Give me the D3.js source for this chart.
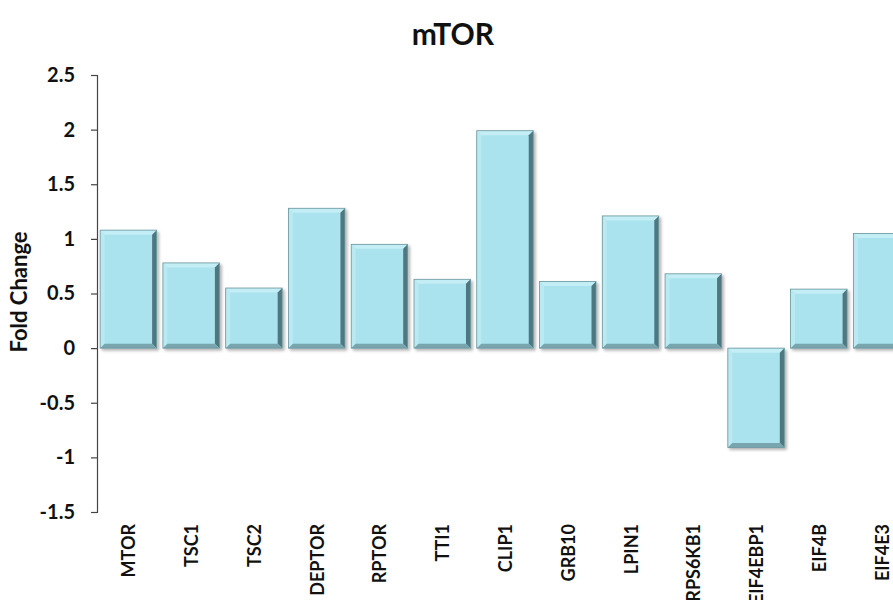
<!DOCTYPE html>
<html><head><meta charset="utf-8">
<script src="https://cdn.jsdelivr.net/npm/d3@7"></script>
<style>body{margin:0;background:#fff;}svg{display:block;font-family:Lato,"Open Sans",sans-serif;}</style>
</head><body>
<svg id="chart" width="893" height="600"></svg>
<script>
const categories = ["MTOR","TSC1","TSC2","DEPTOR","RPTOR","TTI1","CLIP1","GRB10","LPIN1","RPS6KB1","EIF4EBP1","EIF4B","EIF4E3"];
const foldChange = [1.08, 0.78, 0.55, 1.28, 0.95, 0.63, 1.99, 0.61, 1.21, 0.68, -0.91, 0.54, 1.05];
const yTicks = [-1.5, -1, -0.5, 0, 0.5, 1, 1.5, 2, 2.5];
const yTickLabels = ["-1.5","-1","-0.5","0","0.5","1","1.5","2","2.5"];
const title = "mTOR";
const yTitle = "Fold Change";

const svg = d3.select("#chart");
const x = d3.scaleBand().domain(categories).range([97, 913]).paddingInner(0.1).paddingOuter(0.05);
const y = d3.scaleLinear().domain([-1.5, 2.5]).range([512, 75]);

svg.append("text").attr("x", 453).attr("y", 45).attr("text-anchor", "middle")
  .attr("font-weight", "bold").attr("font-size", 30).attr("fill", "#111").text(title);

svg.append("text").attr("transform", "translate(27,292) rotate(-90)").attr("text-anchor", "middle")
  .attr("font-weight", "bold").attr("font-size", 22).attr("fill", "#111").text(yTitle);

const yAxis = d3.axisLeft(y).tickValues(yTicks).tickFormat((d, i) => yTickLabels[i]).tickSize(6).tickPadding(16);
const gy = svg.append("g").attr("transform", "translate(97,0)").call(yAxis);
gy.select(".domain").attr("stroke", "#444").attr("stroke-width", 1.2);
gy.selectAll(".tick line").attr("stroke", "#444").attr("stroke-width", 1.2);
gy.selectAll(".tick text").attr("font-size", 20).attr("font-weight", "bold").attr("fill", "#111")
  .attr("font-family", "Lato, 'Open Sans', sans-serif");

const defs = svg.append("defs");
const f = defs.append("filter").attr("id", "sh").attr("x", "-10%").attr("y", "-10%").attr("width", "130%").attr("height", "130%");
f.append("feGaussianBlur").attr("in", "SourceAlpha").attr("stdDeviation", 1.5).attr("result", "b");
f.append("feOffset").attr("in", "b").attr("dx", 1.5).attr("dy", 1.5).attr("result", "o");
f.append("feComponentTransfer").attr("in", "o").attr("result", "o2").append("feFuncA").attr("type", "linear").attr("slope", 0.3);
const m = f.append("feMerge"); m.append("feMergeNode").attr("in", "o2"); m.append("feMergeNode").attr("in", "SourceGraphic");

const bw = 4.5;
const bars = svg.append("g").selectAll("g").data(categories).join("g").attr("filter", "url(#sh)");
bars.each(function(c, i) {
  const v = foldChange[i];
  const x0 = x(c), x1 = x(c) + x.bandwidth();
  const y0 = Math.min(y(v), y(0)), y1 = Math.max(y(v), y(0));
  const g = d3.select(this);
  g.append("rect").attr("x", x0).attr("y", y0).attr("width", x1 - x0).attr("height", y1 - y0).attr("fill", "#aae3ed");
  const poly = (pts, col) => g.append("polygon").attr("points", pts.map(p => p.join(",")).join(" ")).attr("fill", col);
  poly([[x0,y0],[x1,y0],[x1-bw,y0+bw],[x0+bw,y0+bw]], "#c4eef5");
  poly([[x0,y0],[x0+bw,y0+bw],[x0+bw,y1-bw],[x0,y1]], "#b9e9f1");
  poly([[x1,y0],[x1,y1],[x1-bw,y1-bw],[x1-bw,y0+bw]], "#4f7780");
  poly([[x0,y1],[x0+bw,y1-bw],[x1-bw,y1-bw],[x1,y1]], "#78a5ae");
  g.append("rect").attr("x", x0).attr("y", y0).attr("width", x1 - x0).attr("height", y1 - y0)
    .attr("fill", "none").attr("stroke", "#6b959d").attr("stroke-width", 0.8);
});

svg.append("g").selectAll("text").data(categories).join("text")
  .attr("transform", c => `translate(${x(c) + x.bandwidth()/2 + 7},524) rotate(-90)`)
  .attr("text-anchor", "end").attr("font-size", 18).attr("font-weight", "bold").attr("fill", "#111")
  .text(c => c);
</script>
</body></html>
